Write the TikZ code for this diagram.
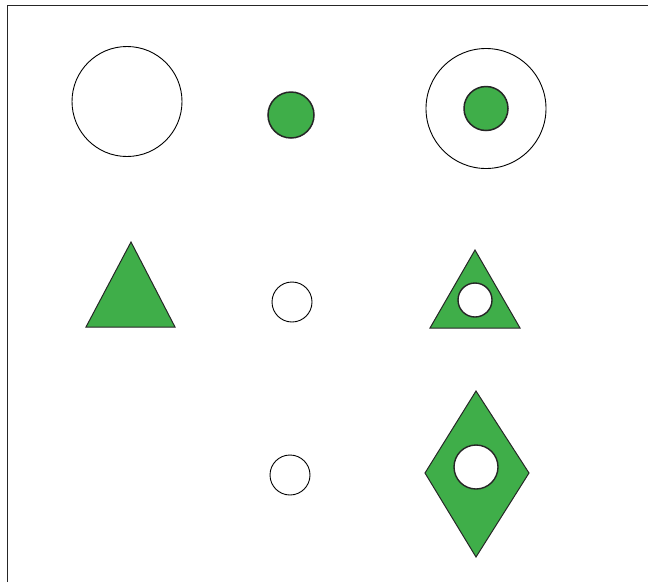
\documentclass[tikz,border=0pt]{standalone}
\definecolor{leaf}{HTML}{3FAE49}
\tikzset{
  outline/.style={draw=black, line width=0.9pt, fill=white},
  greenfill/.style={draw=black!85, line width=1.5pt, fill=leaf},
  greenshape/.style={draw=black!85, line width=1pt, fill=leaf, line join=miter},
  hole/.style={draw=black!85, line width=1.4pt, fill=white},
}
\begin{document}
\begin{tikzpicture}[x=1pt,y=-1pt]
\useasboundingbox (0,0) rectangle (648,582);
% frame
\draw[line width=1.6pt, black!85] (7.5,582) -- (7.5,5.5) -- (648,5.5);
% row 1
\node[circle, outline, minimum size=110pt, inner sep=0pt] (c1) at (127,101.5) {};
\node[circle, greenfill, minimum size=46pt, inner sep=0pt] (c2) at (291,115) {};
\node[circle, outline, minimum size=120pt, inner sep=0pt] (c3) at (486,108.5) {};
\node[circle, greenfill, minimum size=44pt, inner sep=0pt] (c3i) at (486,108.5) {};
% row 2
\draw[greenshape] (131,242) -- (175,327) -- (86,327) -- cycle;
\node[circle, outline, minimum size=40pt, inner sep=0pt] (c4) at (292,302) {};
\draw[greenshape] (475,250) -- (520,328) -- (430,328) -- cycle;
\node[circle, hole, minimum size=34pt, inner sep=0pt] (c5) at (475,300) {};
% row 3
\node[circle, outline, minimum size=40pt, inner sep=0pt] (c6) at (290,475) {};
\draw[greenshape] (476,391) -- (529,473) -- (476,557) -- (425,473) -- cycle;
\node[circle, hole, minimum size=44pt, inner sep=0pt] (c7) at (476,467) {};
\end{tikzpicture}
\end{document}
